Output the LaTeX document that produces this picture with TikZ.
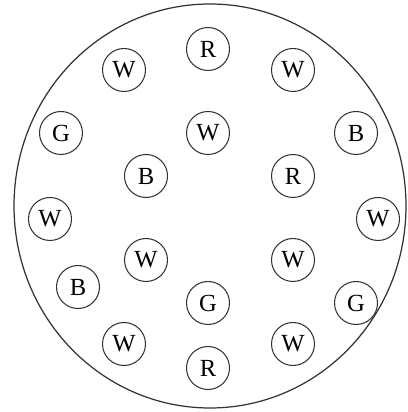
\documentclass[tikz,border=0pt]{standalone}
\usepackage{fontspec}
\setmainfont{Liberation Serif}
\usepackage{tikz}
\usetikzlibrary{shapes.geometric, positioning}

\begin{document}
\begin{tikzpicture}[
    bead/.style={circle, draw=black!80, line width=0.6pt, minimum size=0.86cm, inner sep=0pt, font=\fontsize{14}{16}\selectfont},
    rim/.style={ellipse, draw=black!80, line width=0.7pt, minimum width=7.84cm, minimum height=8.08cm, inner sep=0pt}
]
\useasboundingbox (0,0) rectangle (8.14,8.24);
\node[rim] (drum) at (4.2,4.12) {};

\node[bead] (rtop) at (4.16,7.26) {R};
\node[bead] (wtl) at (2.48,6.84) {W};
\node[bead] (wtr) at (5.86,6.84) {W};
\node[bead] (gl) at (1.22,5.58) {G};
\node[bead] (wc) at (4.16,5.58) {W};
\node[bead] (br) at (7.12,5.58) {B};
\node[bead] (bil) at (2.92,4.72) {B};
\node[bead] (rir) at (5.86,4.72) {R};
\node[bead] (wl) at (1.00,3.86) {W};
\node[bead] (wr) at (7.56,3.86) {W};
\node[bead] (wil) at (2.92,3.04) {W};
\node[bead] (wir) at (5.86,3.04) {W};
\node[bead] (bll) at (1.56,2.50) {B};
\node[bead] (gc) at (4.16,2.18) {G};
\node[bead] (gr) at (7.12,2.18) {G};
\node[bead] (wbl) at (2.48,1.36) {W};
\node[bead] (wbr) at (5.86,1.36) {W};
\node[bead] (rbot) at (4.16,0.88) {R};
\end{tikzpicture}
\end{document}
